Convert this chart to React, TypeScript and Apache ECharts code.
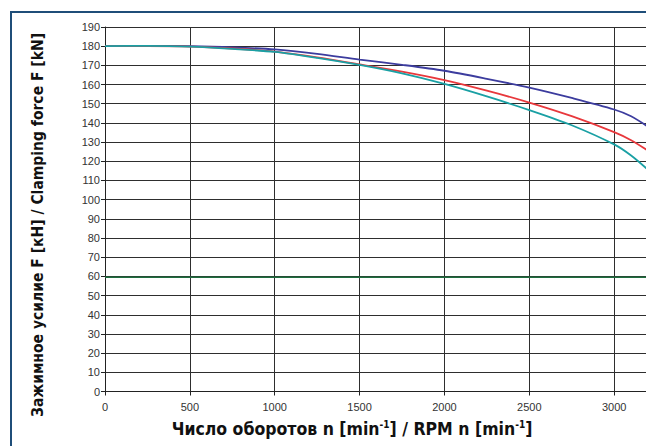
import React, { useEffect, useRef } from "react";
import * as echarts from "echarts";

const rpm = [0, 250, 500, 750, 1000, 1250, 1500, 1750, 2000, 2250, 2500, 2750, 3000, 3100, 3200];
const blueForce = [180, 180.2, 180, 179.4, 178.3, 176, 173, 170.3, 167.2, 163, 158.4, 153, 147, 143.5, 138];
const redForce = [180, 180, 179.8, 178.8, 177.2, 174.2, 170.5, 166.7, 162.3, 156.8, 150.6, 143.5, 135.2, 131, 125.5];
const tealForce = [180, 180.2, 179.8, 178.6, 177, 173.9, 170.2, 165.8, 160.3, 153.8, 146.7, 138.8, 128.8, 123, 115.5];
const limitRpm = [0, 3500];
const limitForce = [59.5, 59.5];

const yTitle = "Зажимное усилие F [кН] / Clamping force F [kN]";

const pairs = (xs: number[], ys: number[]) => xs.map((x, i) => [x, ys[i]]);

export default function App() {
  const ref = useRef<HTMLDivElement>(null);
  useEffect(() => {
    if (!ref.current) return;
    const chart = echarts.init(ref.current, null, { renderer: "svg" });
    const titleFont = "'DejaVu Sans Condensed', 'DejaVu Sans', sans-serif";
    const labelFont = "'Liberation Sans', Arial, sans-serif";
    chart.setOption({
      animation: false,
      backgroundColor: "#ffffff",
      grid: {
        left: 105,
        top: 27,
        width: 594,
        height: 364.5,
        containLabel: false,
        outerBoundsMode: "none",
      },
      xAxis: {
        type: "value",
        min: 0,
        max: 3500,
        interval: 500,
        axisLine: { show: true, lineStyle: { color: "#222", width: 1 } },
        axisTick: { show: true, length: 4, lineStyle: { color: "#222" } },
        axisLabel: {
          color: "#333",
          fontSize: 11,
          fontFamily: labelFont,
          margin: 10,
          showMaxLabel: false,
          formatter: (v: number) => String(v),
        },
        splitLine: { show: true, lineStyle: { color: "#2e2e2e", width: 1 } },
      },
      yAxis: {
        type: "value",
        min: 0,
        max: 190,
        interval: 10,
        axisLine: { show: true, lineStyle: { color: "#222", width: 1 } },
        axisTick: { show: true, length: 4, lineStyle: { color: "#222" } },
        axisLabel: {
          color: "#333",
          fontSize: 11,
          fontFamily: labelFont,
          margin: 5,
          formatter: (v: number) => String(v),
        },
        splitLine: { show: true, lineStyle: { color: "#2e2e2e", width: 1 } },
      },
      series: [
        {
          type: "line",
          data: pairs(limitRpm, limitForce),
          showSymbol: false,
          lineStyle: { color: "#1e6e3e", width: 1.5 },
        },
        {
          type: "line",
          data: pairs(rpm, blueForce),
          smooth: 0.3,
          showSymbol: false,
          lineStyle: { color: "#3c3c9e", width: 1.8 },
        },
        {
          type: "line",
          data: pairs(rpm, redForce),
          smooth: 0.3,
          showSymbol: false,
          lineStyle: { color: "#e8383c", width: 1.8 },
        },
        {
          type: "line",
          data: pairs(rpm, tealForce),
          smooth: 0.3,
          showSymbol: false,
          lineStyle: { color: "#1aa0a4", width: 1.8 },
        },
      ],
      graphic: [
        {
          type: "polyline",
          shape: { points: [[11, 446], [11, 12], [646, 12]] },
          style: { stroke: "#1f4e79", lineWidth: 2, fill: "none" },
        },
        {
          type: "text",
          x: 38,
          y: 225,
          rotation: Math.PI / 2,
          style: {
            text: yTitle,
            font: `bold 15.5px ${titleFont}`,
            fill: "#111",
            align: "center",
            verticalAlign: "middle",
          },
        },
        {
          type: "text",
          x: 352,
          y: 429,
          style: {
            text: "{b|Число оборотов n [min}{s|-1}{b|] / RPM n [min}{s|-1}{b|]}",
            align: "center",
            verticalAlign: "middle",
            rich: {
              b: { fontFamily: titleFont, fontWeight: "bold", fontSize: 17.5, fill: "#111", lineHeight: 24 },
              s: { fontFamily: titleFont, fontWeight: "bold", fontSize: 10, fill: "#111", lineHeight: 24, padding: [0, 0, 9, 0] },
            },
          },
        },
      ],
    });
    return () => chart.dispose();
  }, []);
  return (
    <div style={{ position: "fixed", left: 0, top: 0, width: 646, height: 446, overflow: "hidden", background: "#fff" }}>
      <div ref={ref} style={{ width: 646, height: 446 }} />
    </div>
  );
}
